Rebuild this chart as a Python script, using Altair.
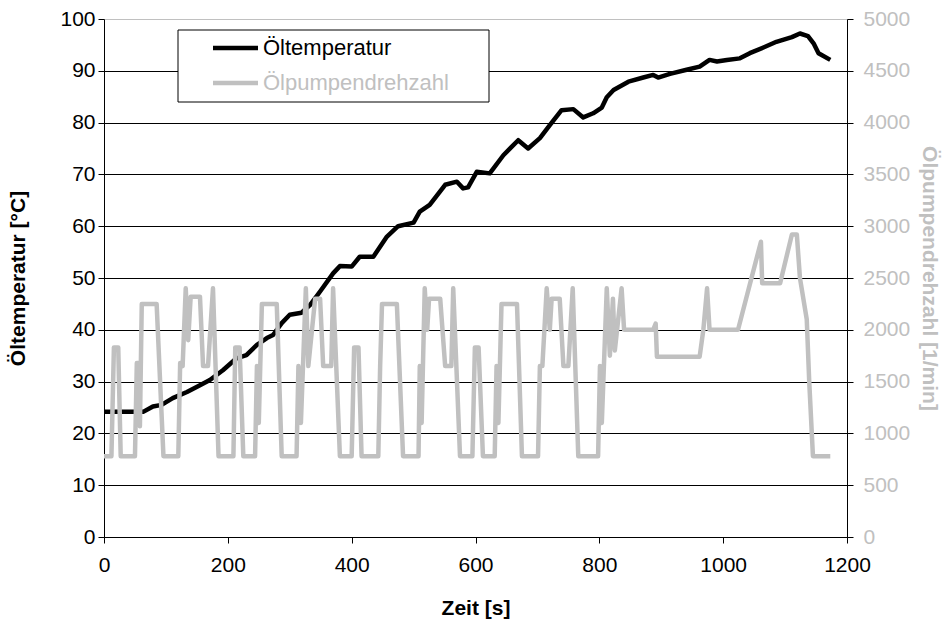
import altair as alt
import pandas as pd

# ---- data ----
series_names = ["Öltemperatur", "Ölpumpendrehzahl"]

temp_time = [0, 64, 79, 93, 111, 134, 155, 171, 192, 214, 230, 247, 263, 273, 287, 300,
             319, 333, 349, 370, 381, 400, 413, 435, 457, 475, 500, 510, 526, 551, 570,
             580, 588, 602, 623, 645, 669, 685, 704, 720, 739, 758, 774, 790, 804, 812,
             823, 847, 871, 887, 895, 914, 941, 962, 978, 990, 1006, 1027, 1043, 1065,
             1086, 1111, 1124, 1137, 1146, 1154, 1173]
temp_value = [24.2, 24.2, 25.2, 25.5, 26.8, 28.0, 29.3, 30.3, 32.2, 34.5, 35.1, 37.1, 38.4,
              39.0, 41.3, 42.9, 43.3, 44.8, 47.4, 50.9, 52.3, 52.2, 54.1, 54.1, 58.0, 60.0,
              60.7, 62.8, 64.1, 68.0, 68.6, 67.3, 67.5, 70.5, 70.2, 73.7, 76.6, 75.0, 77.0,
              79.5, 82.4, 82.6, 81.0, 81.8, 82.9, 84.9, 86.3, 87.9, 88.7, 89.2, 88.7, 89.4,
              90.2, 90.8, 92.1, 91.8, 92.1, 92.4, 93.4, 94.5, 95.6, 96.5, 97.2, 96.7, 95.3,
              93.4, 92.1]

pump_time = [0, 12, 16, 23, 27,
             50, 53, 56, 58, 61, 85, 96,
             120, 123, 127, 132, 136, 140, 155, 160, 168, 176, 185,
             209, 212, 219, 225,
             244, 247, 250, 255, 279, 287,
             311, 314, 318, 326, 330, 341, 349, 354, 367, 370, 381,
             400, 404, 411, 416,
             443, 446, 449, 473, 483,
             508, 510, 513, 518, 522, 525, 543, 551, 561, 564, 575,
             595, 599, 605, 612,
             631, 634, 637, 642, 667, 675,
             701, 704, 708, 715, 720, 723, 736, 742, 750, 757, 766,
             798, 801, 804, 812, 817, 822, 825, 836, 840, 887, 891, 893,
             962, 968, 974, 978, 1024, 1061, 1063, 1092, 1111, 1119, 1124, 1135,
             1139, 1145, 1173]
pump_value = [780, 780, 1830, 1830, 780,
              780, 1680, 1680, 1070, 2250, 2250, 780,
              780, 1680, 1650, 2400, 1900, 2320, 2320, 1650, 1650, 2400, 780,
              780, 1830, 1830, 780,
              780, 1650, 1100, 2250, 2250, 780,
              780, 1650, 1100, 2400, 1650, 2300, 2300, 1650, 1650, 2400, 780,
              780, 1830, 1830, 780,
              780, 1650, 2250, 2250, 780,
              780, 1650, 1100, 2400, 2000, 2300, 2300, 1650, 1650, 2400, 780,
              780, 1830, 1830, 780,
              780, 1650, 1100, 2250, 2250, 780,
              780, 1650, 1650, 2400, 2000, 2300, 2300, 1650, 1650, 2400, 780,
              780, 1650, 1100, 2400, 1750, 2300, 1800, 2400, 2000, 2000, 2060, 1740,
              1740, 2000, 2400, 2000, 2000, 2850, 2450, 2450, 2920, 2920, 2500, 2100,
              1500, 780, 780]

x_ticks = list(range(0, 1201, 200))
left_ticks = list(range(0, 101, 10))
right_ticks = list(range(0, 5001, 500))

FONT = "Liberation Sans"
GRAY = "#c0c0c0"
LW = 4.5

df_t = pd.DataFrame({"time": temp_time, "value": temp_value, "series": series_names[0]})
df_p = pd.DataFrame({"time": pump_time, "value": pump_value, "series": series_names[1]})

x_axis = alt.Axis(values=x_ticks, format="d", labelFontSize=21, labelFont=FONT, labelColor="black",
                  tickColor="black", tickSize=6, domainColor="black", grid=False,
                  labelFlush=False, labelOverlap=False, labelPadding=11,
                  title="Zeit [s]", titleFont=FONT, titleFontSize=21, titleFontWeight="bold",
                  titleColor="black", titleX=371.5, titleY=71, titleBaseline="middle")
x_enc = alt.X("time:Q", scale=alt.Scale(domain=[0, 1200], nice=False), axis=x_axis)

temp_line = alt.Chart(df_t).mark_line(color="black", strokeWidth=LW, strokeJoin="round").encode(
    x=x_enc,
    y=alt.Y("value:Q", scale=alt.Scale(domain=[0, 100], nice=False),
            axis=alt.Axis(values=left_ticks, format="d", orient="left", labelFontSize=21,
                          labelFont=FONT, labelColor="black", tickColor="black", tickSize=6,
                          domainColor="black", grid=True, gridWidth=1,
                          gridColor={"condition": {"test": "datum.value === 100", "value": GRAY},
                                     "value": "#000000"},
                          labelPadding=3, labelOverlap=False,
                          title="Öltemperatur [°C]", titleFont=FONT, titleFontSize=21,
                          titleFontWeight="bold", titleColor="black", titleAngle=270,
                          titleX=-86, titleY=259, titleBaseline="middle")),
)

pump_line = alt.Chart(df_p).mark_line(color=GRAY, strokeWidth=LW, strokeJoin="round").encode(
    x=x_enc,
    y=alt.Y("value:Q", scale=alt.Scale(domain=[0, 5000], nice=False),
            axis=alt.Axis(values=right_ticks, format="d", orient="right", labelFontSize=21,
                          labelFont=FONT, labelColor=GRAY, tickColor="black", tickSize=6,
                          domainColor="black", grid=False, labelPadding=10, labelOverlap=False,
                          title="Ölpumpendrehzahl [1/min]", titleFont=FONT, titleFontSize=21,
                          titleFontWeight="bold", titleColor=GRAY, titleAngle=90,
                          titleX=81, titleY=259, titleBaseline="middle")),
)

one = pd.DataFrame({"a": [0]})
leg_box = alt.Chart(one).mark_rect(fill="white", stroke="black", strokeWidth=1).encode(
    x=alt.value(74), x2=alt.value(385), y=alt.value(11), y2=alt.value(83))
leg_rule1 = alt.Chart(one).mark_rule(color="black", strokeWidth=LW).encode(
    x=alt.value(109), x2=alt.value(154), y=alt.value(29))
leg_rule2 = alt.Chart(one).mark_rule(color=GRAY, strokeWidth=LW).encode(
    x=alt.value(109), x2=alt.value(154), y=alt.value(64))
leg_text1 = alt.Chart(one).mark_text(align="left", baseline="middle", fontSize=22, font=FONT,
                                     color="black").encode(
    x=alt.value(159), y=alt.value(29), text=alt.value(series_names[0]))
leg_text2 = alt.Chart(one).mark_text(align="left", baseline="middle", fontSize=22, font=FONT,
                                     color=GRAY).encode(
    x=alt.value(159), y=alt.value(64), text=alt.value(series_names[1]))

chart = alt.layer(temp_line, pump_line, leg_box, leg_rule1, leg_rule2, leg_text1, leg_text2
                  ).resolve_scale(y="independent").properties(
    width=743, height=518,
    padding={"left": 104, "top": 19, "right": 103, "bottom": 89},
    autosize=alt.AutoSizeParams(type="none"),
    background="white",
).configure_view(stroke=None)

chart.save("out.html", embed_options={"renderer": "svg", "actions": False})
